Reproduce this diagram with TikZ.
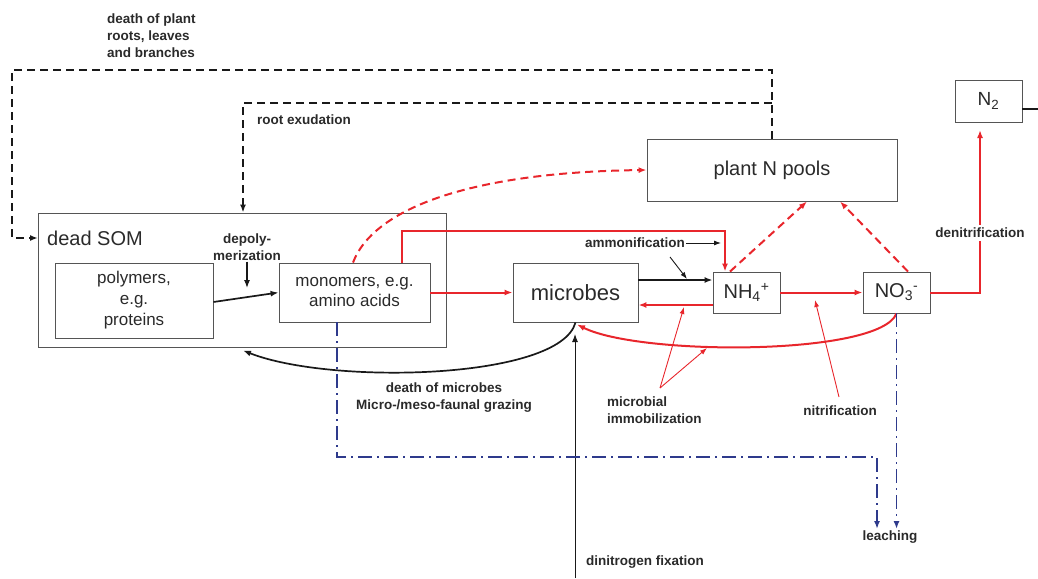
\documentclass[tikz,border=0pt]{standalone}
\usepackage{fontspec}
\setmainfont{Liberation Sans}
\usetikzlibrary{arrows.meta}
\definecolor{nred}{HTML}{E8262C}
\definecolor{nblue}{HTML}{2E3A8C}
\definecolor{ngray}{HTML}{2A2A2A}
\definecolor{bgray}{HTML}{555555}
\begin{document}
\begin{tikzpicture}[x=1pt,y=-1pt,
 box/.style={draw=bgray, line width=0.9pt, inner sep=0pt, text=ngray, align=center},
 lbl/.style={font=\bfseries\fontsize{13.5}{17}\selectfont, text=ngray, inner sep=1pt},
 tip/.style={-{Latex[length=8pt,width=6pt]}},
 blk/.style={draw=black!90, line width=1.7pt},
 redl/.style={draw=nred, line width=2pt},
 thinred/.style={draw=nred, line width=0.9pt, -{Latex[length=7pt,width=5pt]}},
 thinblk/.style={draw=black!90, line width=0.9pt, -{Latex[length=7pt,width=5pt]}},
 blkdash/.style={draw=black!90, line width=1.7pt, dash pattern=on 8pt off 5pt},
 reddash/.style={draw=nred, line width=2pt, dash pattern=on 8pt off 5pt},
 bluedd/.style={draw=nblue, line width=1.6pt, dash pattern=on 14pt off 5pt on 2pt off 5pt},
]
\useasboundingbox (0,0) rectangle (1038,578);

% boxes
\node[box, minimum width=408pt, minimum height=134pt] (som) at (242,280) {};
\node[anchor=west, text=ngray, inner sep=1pt, font=\fontsize{20}{24}\selectfont] (somlbl) at (46,238) {dead SOM};
\node[box, minimum width=158pt, minimum height=75pt, font=\fontsize{17}{21}\selectfont] (poly) at (134,300.5) {polymers,\\e.g.\\proteins};
\node[box, minimum width=151pt, minimum height=59pt, font=\fontsize{17}{20}\selectfont] (mono) at (354.5,292.5) {monomers, e.g.\\amino acids};
\node[box, minimum width=125pt, minimum height=59pt, font=\fontsize{22}{26}\selectfont] (mic) at (575.5,292.5) {microbes};
\node[box, minimum width=67pt, minimum height=41pt, font=\fontsize{20}{24}\selectfont] (nh4) at (746.5,292.5) {NH\textsubscript{4}\textsuperscript{+}};
\node[box, minimum width=67pt, minimum height=41pt, font=\fontsize{20}{24}\selectfont] (no3) at (896.5,292.5) {NO\textsubscript{3}\textsuperscript{-}};
\node[box, minimum width=250pt, minimum height=62pt, font=\fontsize{20}{24}\selectfont] (plant) at (772,170) {plant N pools};
\node[box, minimum width=67pt, minimum height=42pt, font=\fontsize{19}{23}\selectfont] (n2) at (988.5,101) {N\textsubscript{2}};

% labels
\node[lbl, anchor=north west, align=left] (dpl) at (106,13) {death of plant\\roots, leaves\\and branches};
\node[lbl, anchor=west] (rex) at (256,120) {root exudation};
\node[lbl, align=center] (dep) at (247,247) {depoly-\\merization};
\node[lbl, anchor=east] (amm) at (686,243) {ammonification};
\node[lbl, align=center] (dom) at (444,398) {death of microbes\\Micro-/meso-faunal grazing};
\node[lbl, anchor=north west, align=left] (imm) at (606,396) {microbial\\immobilization};
\node[lbl] (nit) at (840,411) {nitrification};
\node[lbl] (lea) at (890,537) {leaching};
\node[lbl, anchor=west] (dnf) at (585,562) {dinitrogen fixation};

% coordinates
\coordinate (j) at (772,103);
\coordinate (dp1) at (12,70);
\coordinate (dp2) at (38,238);
\coordinate (re) at (243,103);
\coordinate (depend) at (247,288);
\coordinate (am) at (725,231);
\coordinate (ammtip) at (721,243);
\coordinate (amms) at (670,257);
\coordinate (ammt) at (687,279);
\coordinate (dn) at (980,130);
\coordinate (n2out) at (1038,109);
\coordinate (immap) at (660,388);
\coordinate (immt1) at (684,307);
\coordinate (immt2) at (707,348);
\coordinate (nits) at (839,397);
\coordinate (nitt) at (815,300);
\coordinate (fixs) at (575,578);
\coordinate (fixt) at (575,334);
\coordinate (lb) at (877,457);
\coordinate (la) at (877,529);
\coordinate (lc) at (896.5,529);

% plant litter & exudation (black dashed)
\draw[blkdash, tip] (plant.north) -- (j) |- (dp1) |- (dp2);
\draw[blkdash, tip] (j) -- (re) -- (re |- som.north);

% depolymerization
\draw[blk, line width=1.2pt, tip] (dep.south) -- (depend);
\draw[blk, tip] ([yshift=-1.5pt]poly.east) -- (mono.west);

% red flows
\draw[redl, tip] (mono.east) -- (mic.west);
\draw[redl, tip] ([xshift=47.5pt]mono.north) |- (am) -- (am |- nh4.north);
\draw[reddash, tip] ([xshift=-1.5pt]mono.north) .. controls (375,205) and (480,172) .. (plant.west);
\draw[blk, tip] ([yshift=12.5pt]mic.east) -- ([yshift=12.5pt]nh4.west);
\draw[redl, tip] ([yshift=-12.5pt]nh4.west) -- ([yshift=-12.5pt]mic.east);
\draw[redl, tip] (nh4.east) -- (no3.west);
\draw[redl, tip] (no3.east) -| (dn);
\draw[blk] ([yshift=-8pt]n2.east) -- (n2out);
\draw[reddash, tip] ([xshift=-16.5pt]nh4.north) -- ([xshift=35pt]plant.south);
\draw[reddash, tip] ([xshift=11.5pt]no3.north) -- ([xshift=68pt]plant.south);
\draw[redl, tip] (no3.south) .. controls (880,356) and (640,356) .. ([xshift=1.5pt, yshift=-2pt]mic.south);
\node[lbl, fill=white, inner sep=3pt] (den) at (980,233) {denitrification};

% ammonification pointers
\draw[thinblk] (amm.east) -- (ammtip);
\draw[thinblk] (amms) -- (ammt);

% immobilization & nitrification pointers
\draw[thinred] (immap) -- (immt1);
\draw[thinred] (immap) -- (immt2);
\draw[thinred] (nits) -- (nitt);

% death of microbes
\draw[blk, tip] (mic.south) .. controls (560,380) and (330,385) .. ([xshift=1pt, yshift=-3pt]som.south);

% dinitrogen fixation
\draw[blk, line width=1pt, tip] (fixs) -- (fixt);

% leaching
\draw[bluedd, tip] ([xshift=-17.5pt]mono.south) |- (lb) -- (la);
\draw[bluedd, tip] (no3.south) -- (lc);
\end{tikzpicture}
\end{document}
